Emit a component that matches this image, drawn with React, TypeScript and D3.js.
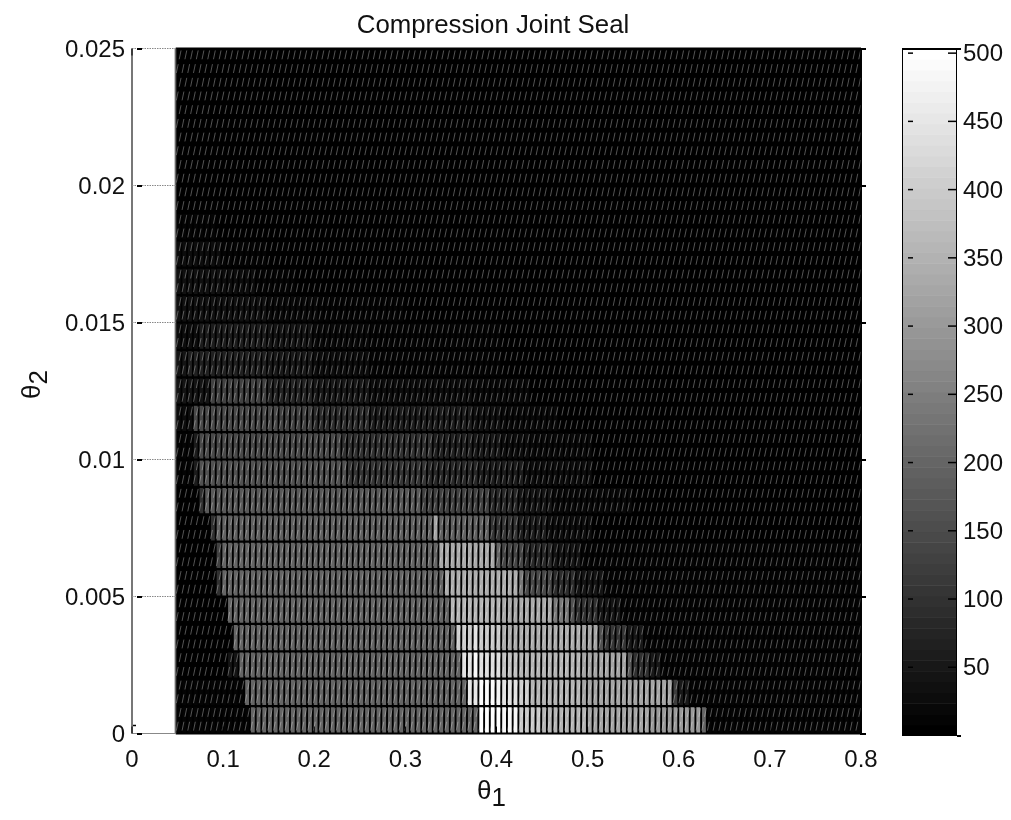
import React from "react";
import * as d3 from "d3";

type Run = [number, number];

const xTicks = [0, 0.1, 0.2, 0.3, 0.4, 0.5, 0.6, 0.7, 0.8];
const xTickLabels = ["0", "0.1", "0.2", "0.3", "0.4", "0.5", "0.6", "0.7", "0.8"];
const yTicks = [0, 0.005, 0.01, 0.015, 0.02, 0.025];
const yTickLabels = ["0", "0.005", "0.01", "0.015", "0.02", "0.025"];
const cbarTicks = [50, 100, 150, 200, 250, 300, 350, 400, 450, 500];

const THETA1_START = 0.048;
const THETA1_END = 0.8;
const COLUMNS = 120;
const ROW_STEP = 0.001;

// Each row: runs of [theta1 end, value], bottom row first
const row00: Run[] = [[0.13, 8], [0.38, 200], [0.407, 503], [0.423, 483], [0.448, 394], [0.497, 355], [0.569, 325], [0.623, 305], [0.63, 197], [0.8, 8]];
const row01: Run[] = [[0.124, 8], [0.368, 200], [0.38, 453], [0.398, 495], [0.404, 473], [0.423, 443], [0.437, 404], [0.495, 355], [0.593, 325], [0.599, 118], [0.61, 50], [0.8, 8]];
const row02: Run[] = [[0.105, 6], [0.119, 40], [0.361, 200], [0.374, 443], [0.38, 490], [0.404, 433], [0.426, 384], [0.492, 355], [0.543, 325], [0.549, 180], [0.566, 100], [0.58, 50], [0.8, 8]];
const row03: Run[] = [[0.112, 6], [0.357, 200], [0.374, 404], [0.38, 443], [0.404, 394], [0.492, 345], [0.512, 325], [0.517, 158], [0.543, 108], [0.565, 50], [0.8, 12]];
const row04: Run[] = [[0.106, 6], [0.35, 200], [0.404, 355], [0.461, 335], [0.479, 236], [0.486, 158], [0.514, 100], [0.539, 40], [0.8, 8]];
const row05: Run[] = [[0.093, 6], [0.1, 100], [0.344, 200], [0.424, 345], [0.429, 236], [0.462, 148], [0.484, 90], [0.517, 40], [0.8, 8]];
const row06: Run[] = [[0.093, 6], [0.098, 130], [0.336, 200], [0.398, 335], [0.404, 197], [0.429, 138], [0.462, 80], [0.492, 40], [0.8, 8]];
const row07: Run[] = [[0.086, 6], [0.092, 100], [0.33, 190], [0.338, 325], [0.393, 190], [0.424, 108], [0.456, 60], [0.503, 24], [0.8, 6]];
const row08: Run[] = [[0.076, 6], [0.082, 100], [0.316, 180], [0.393, 130], [0.424, 80], [0.459, 40], [0.55, 16], [0.8, 6]];
const row09: Run[] = [[0.069, 8], [0.075, 60], [0.236, 160], [0.324, 105], [0.382, 85], [0.429, 60], [0.503, 24], [0.8, 6]];
const row10: Run[] = [[0.066, 10], [0.075, 60], [0.232, 146], [0.327, 96], [0.371, 70], [0.404, 50], [0.437, 30], [0.503, 16], [0.8, 6]];
const row11: Run[] = [[0.067, 30], [0.159, 146], [0.199, 126], [0.261, 88], [0.371, 60], [0.404, 36], [0.47, 16], [0.8, 6]];
const row12: Run[] = [[0.086, 40], [0.151, 130], [0.199, 76], [0.261, 50], [0.371, 30], [0.437, 16], [0.8, 6]];
const row13: Run[] = [[0.06, 40], [0.148, 70], [0.199, 50], [0.261, 24], [0.404, 12], [0.8, 6]];
const row14: Run[] = [[0.075, 30], [0.151, 60], [0.199, 44], [0.261, 20], [0.404, 10], [0.8, 6]];
const row15: Run[] = [[0.151, 34], [0.203, 22], [0.3, 12], [0.8, 6]];
const row16: Run[] = [[0.1, 36], [0.133, 24], [0.18, 14], [0.8, 6]];
const row17: Run[] = [[0.097, 24], [0.15, 12], [0.8, 6]];
const row18: Run[] = [[0.09, 12], [0.8, 6]];
const row19: Run[] = [[0.8, 6]];
const rows: Run[][] = [row00, row01, row02, row03, row04, row05, row06, row07, row08, row09, row10, row11, row12, row13, row14, row15, row16, row17, row18, row19, row19, row19, row19, row19, row19];

const PLOT = { left: 132, right: 861, top: 48.5, bottom: 733.5 };
const BAR = { left: 902.5, right: 956.5, top: 48.5, bottom: 735.5 };
const FONT = "'Liberation Sans', Arial, sans-serif";

const x = d3.scaleLinear().domain([0, 0.8]).range([PLOT.left, PLOT.right]);
const y = d3.scaleLinear().domain([0, 0.025]).range([PLOT.bottom, PLOT.top]);
const cy = d3.scaleLinear().domain([0, 503.4]).range([BAR.bottom, BAR.top]);
const levels = d3.range(64).map((i) => {
  const g = Math.round((i / 63) * 255);
  return `rgb(${g},${g},${g})`;
});
const color = d3.scaleQuantize<string>().domain([0, 503.4]).range(levels);

const colStep = (THETA1_END - THETA1_START) / COLUMNS;
const colEdges = d3.range(COLUMNS + 1).map((i) => THETA1_START + i * colStep);

function valueAt(row: Run[], t: number) {
  const i = d3.bisectLeft(row.map((r) => r[0]), t);
  return row[Math.min(i, row.length - 1)][1];
}

export default function App() {
  const rowEdges = d3.range(rows.length + 1).map((i) => i * ROW_STEP);
  const cells: React.ReactNode[] = [];
  rows.forEach((row, r) => {
    d3.range(COLUMNS).forEach((c) => {
      const v = valueAt(row, colEdges[c] + colStep / 2);
      cells.push(
        <rect
          key={`${r}-${c}`}
          x={x(colEdges[c])}
          y={y(rowEdges[r + 1])}
          width={x(colEdges[c + 1]) - x(colEdges[c]) + 0.4}
          height={y(rowEdges[r]) - y(rowEdges[r + 1]) + 0.4}
          fill={color(v)}
        />
      );
    });
  });

  const diag = new Array<string>();
  rows.forEach((_, r) => {
    d3.range(COLUMNS).forEach((c) => {
      const p = d3.path();
      p.moveTo(x(colEdges[c]), y(rowEdges[r]));
      p.lineTo(x(colEdges[c + 1]), y(rowEdges[r + 1]));
      diag.push(p.toString());
    });
  });
  const vLines = colEdges.map((t) => {
    const p = d3.path();
    p.moveTo(x(t), PLOT.top);
    p.lineTo(x(t), PLOT.bottom);
    return p.toString();
  });
  const hLines = rowEdges.map((t) => {
    const p = d3.path();
    p.moveTo(x(THETA1_START), y(t));
    p.lineTo(PLOT.right, y(t));
    return p.toString();
  });

  const tickStyle = { stroke: "#000", strokeWidth: 2, shapeRendering: "crispEdges" as const };
  const label = { fontFamily: FONT, fontSize: 24, fill: "#111" };

  return (
    <svg width={1011} height={820} style={{ position: "absolute", left: 0, top: 0 }}>
      <rect width={1011} height={820} fill="#fff" />
      {cells}
      <path d={vLines.join("")} stroke="#000" strokeWidth={1.9} fill="none" />
      <path d={hLines.join("")} stroke="#000" strokeWidth={2.2} fill="none" />
      <path d={diag.join("")} stroke="#6a6a6a" strokeWidth={0.8} strokeDasharray="9 5" strokeDashoffset={-3} fill="none" style={{ mixBlendMode: "screen" }} />

      <line x1={PLOT.left} x2={PLOT.left} y1={PLOT.top} y2={PLOT.bottom} stroke="#777" strokeWidth={2} />
      <line x1={x(THETA1_START)} x2={x(THETA1_START)} y1={PLOT.top} y2={PLOT.bottom} stroke="#888" strokeWidth={1} />
      {yTicks.map((t) => (
        <line key={t} x1={PLOT.left} x2={x(THETA1_START)} y1={y(t)} y2={y(t)} stroke="#888" strokeWidth={1} strokeDasharray={t === 0 ? undefined : "1.5 1"} />
      ))}
      <line x1={PLOT.right} x2={PLOT.right} y1={PLOT.top} y2={PLOT.bottom} stroke="#000" strokeWidth={1} />

      {yTicks.map((t) => (
        <g key={t}>
          <line x1={137} x2={142} y1={y(t) + 0.5} y2={y(t) + 0.5} {...tickStyle} />
          <line x1={PLOT.right - 1} x2={PLOT.right + 5} y1={y(t)} y2={y(t)} {...tickStyle} />
        </g>
      ))}
      {xTicks.map((t) => (
        <g key={t}>
          <line x1={x(t)} x2={x(t)} y1={PLOT.bottom} y2={PLOT.bottom - 7} stroke="#000" strokeWidth={1} />
          <line x1={x(t)} x2={x(t)} y1={PLOT.top} y2={PLOT.top + 7} stroke="#000" strokeWidth={1} />
        </g>
      ))}
      <line x1={133} x2={136} y1={725.5} y2={725.5} stroke="#000" strokeWidth={1.5} />

      {xTicks.map((t, i) => (
        <text key={t} x={x(t)} y={767} textAnchor="middle" {...label}>
          {xTickLabels[i]}
        </text>
      ))}
      {yTicks.map((t, i) => (
        <text key={t} x={125} y={y(t) + 8} textAnchor="end" {...label}>
          {yTickLabels[i]}
        </text>
      ))}
      <text x={493} y={33} textAnchor="middle" fontFamily={FONT} fontSize={25.8} fill="#111">
        Compression Joint Seal
      </text>
      <text x={477} y={799} fontFamily={FONT} fontSize={26} fill="#111">
        θ<tspan dy={7} fontSize={26}>1</tspan>
      </text>
      <text transform="translate(40,399) rotate(-90)" fontFamily={FONT} fontSize={26} fill="#111">
        θ<tspan dy={7} fontSize={26}>2</tspan>
      </text>

      {levels.map((c, i) => (
        <rect
          key={i}
          x={BAR.left}
          width={BAR.right - BAR.left}
          y={cy(((i + 1) / 64) * 503.4)}
          height={cy((i / 64) * 503.4) - cy(((i + 1) / 64) * 503.4) + 0.5}
          fill={c}
        />
      ))}
      <rect x={BAR.left} y={BAR.top} width={BAR.right - BAR.left} height={BAR.bottom - BAR.top} fill="none" stroke="#000" strokeWidth={1} />
      <line x1={BAR.left} x2={BAR.right + 4} y1={BAR.top} y2={BAR.top} {...tickStyle} />
      <line x1={BAR.right} x2={BAR.right + 4} y1={BAR.bottom} y2={BAR.bottom} {...tickStyle} />
      {cbarTicks.map((t) => (
        <g key={t}>
          <line x1={908} x2={913} y1={cy(t)} y2={cy(t)} stroke="#000" strokeWidth={1.5} />
          <line x1={948} x2={BAR.right} y1={cy(t)} y2={cy(t)} stroke="#000" strokeWidth={1.5} />
          <text x={963} y={cy(t) + 8} {...label}>
            {t}
          </text>
        </g>
      ))}
    </svg>
  );
}
